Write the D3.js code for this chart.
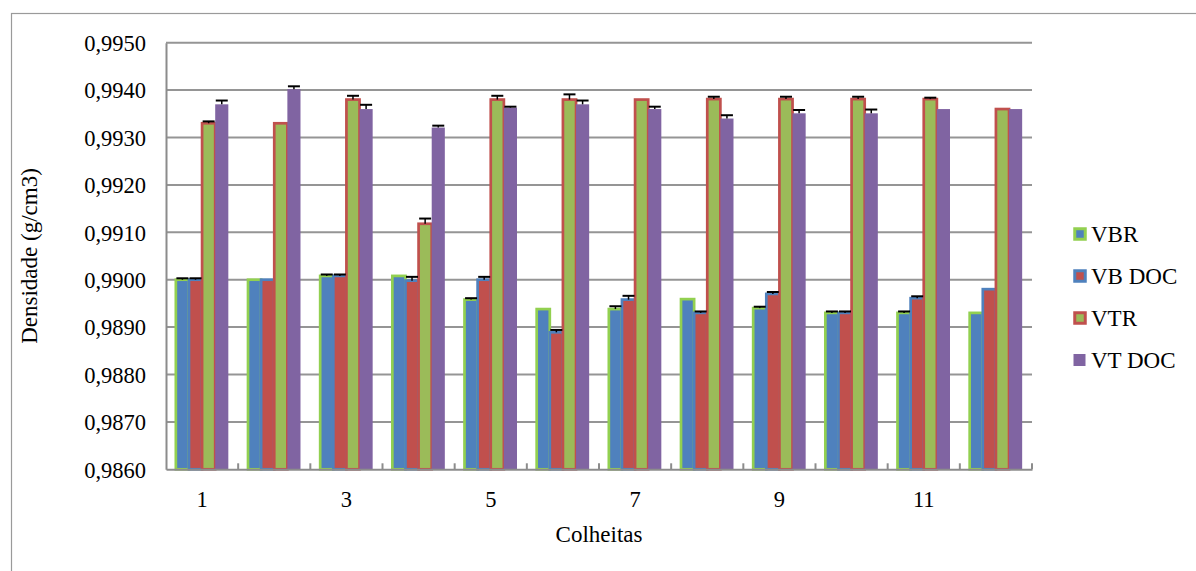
<!DOCTYPE html>
<html><head><meta charset="utf-8">
<script src="https://cdn.jsdelivr.net/npm/d3@7"></script>
<style>
html,body{margin:0;padding:0;background:#fff;}
svg text{font-family:'Liberation Serif','Times New Roman',serif !important;fill:#000;}
</style></head>
<body><svg id="c" width="1196" height="571"></svg>
<script>
const categories = ["1","2","3","4","5","6","7","8","9","10","11","12"];
const tickLabels = ["1","","3","","5","","7","","9","","11",""];
const seriesNames = ["VBR","VB DOC","VTR","VT DOC"];
const yTickValues = [0.9860,0.9870,0.9880,0.9890,0.9900,0.9910,0.9920,0.9930,0.9940,0.9950];

const vbr    = [0.99000,0.99000,0.99008,0.99008,0.98958,0.98938,0.98938,0.98959,0.98940,0.98930,0.98930,0.98930];
const vbDoc  = [0.99000,0.99000,0.99008,0.98998,0.99000,0.98889,0.98958,0.98930,0.98970,0.98930,0.98961,0.98980];
const vtr    = [0.99330,0.99330,0.99380,0.99118,0.99380,0.99380,0.99380,0.99381,0.99381,0.99381,0.99381,0.99360];
const vtDoc  = [0.99370,0.99402,0.99360,0.99321,0.99363,0.99370,0.99360,0.99340,0.99351,0.99351,0.99360,0.99360];

const vbrErr   = [0.00003,null,0.00003,null,0.00003,null,0.00006,null,0.00003,0.00003,0.00003,null];
const vbDocErr = [0.00003,null,0.00003,0.00008,0.00006,0.00005,0.00008,0.00003,0.00004,0.00003,0.00004,null];
const vtrErr   = [0.00004,null,0.00008,0.00011,0.00008,0.00011,null,0.00005,0.00005,0.00005,0.00003,null];
const vtDocErr = [0.00008,0.00006,0.00009,0.00004,0.00002,0.00008,0.00005,0.00007,0.00007,0.00008,null,null];

const values = [vbr, vbDoc, vtr, vtDoc];
const errors = [vbrErr, vbDocErr, vtrErr, vtDocErr];
const fills   = ["#4F81BD","#C0504D","#9BBB59","#8064A2"];
const strokes = ["#92D050","#4F81BD","#C0504D",null];
const FONT = "'Liberation Serif','Times New Roman',serif";

const svg = d3.select("#c");
const L = 166, R = 1032, T = 42.7, B = 469.3;

// outer frame
svg.append("rect").attr("x",11.5).attr("y",13.5).attr("width",1300).attr("height",700)
  .attr("fill","none").attr("stroke","#9a9a9a").attr("stroke-width",1.2);

const x0 = d3.scaleBand().domain(categories).range([L,R]).padding(0);
const x1 = d3.scaleBand().domain(seriesNames).range([0,x0.bandwidth()]).paddingInner(0).paddingOuter(0.75);
const y = d3.scaleLinear().domain([0.986,0.995]).range([B,T]);

// gridlines
svg.append("g").selectAll("line").data(yTickValues.slice(1)).join("line")
  .attr("x1",L).attr("x2",R).attr("y1",d=>y(d)).attr("y2",d=>y(d))
  .attr("stroke","#959595").attr("stroke-width",2);

// bars
const data = [];
seriesNames.forEach((s,si)=>categories.forEach((c,ci)=>data.push({s,si,c,v:values[si][ci],e:errors[si][ci]})));
seriesNames.forEach((s,si)=>{
  svg.append("g").selectAll("rect").data(data.filter(d=>d.si===si)).join("rect")
    .attr("x",d=>x0(d.c)+x1(d.s)).attr("width",x1.bandwidth())
    .attr("y",d=>y(d.v)).attr("height",d=>y(0.986)-y(d.v))
    .attr("fill",fills[si])
    .attr("stroke",strokes[si]||"none").attr("stroke-width",strokes[si]?2.7:0);
});

// error bars (plus direction)
const eb = svg.append("g");
data.filter(d=>d.e!=null).forEach(d=>{
  const cx = x0(d.c)+x1(d.s)+x1.bandwidth()/2;
  const yt = y(d.v+d.e);
  eb.append("line").attr("x1",cx).attr("x2",cx).attr("y1",y(d.v)).attr("y2",yt)
    .attr("stroke","#000").attr("stroke-width",1.5);
  eb.append("line").attr("x1",cx-6).attr("x2",cx+6).attr("y1",yt).attr("y2",yt)
    .attr("stroke","#000").attr("stroke-width",2);
});

// axes
const fmt = d=>d3.format(".4f")(d).replace(".",",");
const yAxis = svg.append("g").attr("transform",`translate(${L},0)`)
  .call(d3.axisLeft(y).tickValues(yTickValues).tickFormat(fmt).tickSize(0).tickPadding(20));
yAxis.attr("font-family",FONT).attr("font-size",22.5);
yAxis.select(".domain").attr("stroke","#8c8c8c").attr("stroke-width",2);
yAxis.selectAll("text").style("font-family",FONT).style("font-size","22.5px").attr("dy","0.35em");

const xAxis = svg.append("g").attr("transform",`translate(0,${B})`)
  .call(d3.axisBottom(x0).tickFormat((d,i)=>tickLabels[i]).tickSize(0).tickPadding(22));
xAxis.attr("font-family",FONT).attr("font-size",22.5);
xAxis.select(".domain").attr("stroke","#8c8c8c").attr("stroke-width",2);
xAxis.selectAll("text").style("font-family",FONT).style("font-size","22.5px");

// category boundary ticks (inside)
const bounds = categories.map(c=>x0(c)+x0.bandwidth());
svg.append("g").selectAll("line").data(bounds).join("line")
  .attr("x1",d=>d).attr("x2",d=>d).attr("y1",B).attr("y2",B-6)
  .attr("stroke","#8c8c8c").attr("stroke-width",2);

// axis titles
svg.append("text").attr("transform",`translate(29,${(T+B)/2}) rotate(-90)`)
  .attr("text-anchor","middle").attr("dy","0.35em").style("font-family",FONT).style("font-size","23px").text("Densidade (g/cm3)");
svg.append("text").attr("x",(L+R)/2).attr("y",542).attr("text-anchor","middle")
  .style("font-family",FONT).style("font-size","23px").text("Colheitas");

// legend
const lg = svg.append("g");
seriesNames.forEach((s,i)=>{
  const cy = 234 + i*42;
  if (strokes[i]) {
    lg.append("rect").attr("x",1080-5.25).attr("y",cy-5.25).attr("width",10.5).attr("height",10.5)
      .attr("fill",fills[i]).attr("stroke",strokes[i]).attr("stroke-width",3);
  } else {
    lg.append("rect").attr("x",1079.5-6).attr("y",cy-6).attr("width",12).attr("height",12).attr("fill",fills[i]);
  }
  lg.append("text").attr("x",1091).attr("y",cy).attr("dy","0.35em").style("font-family",FONT).style("font-size","23px").text(s);
});
</script></body></html>
